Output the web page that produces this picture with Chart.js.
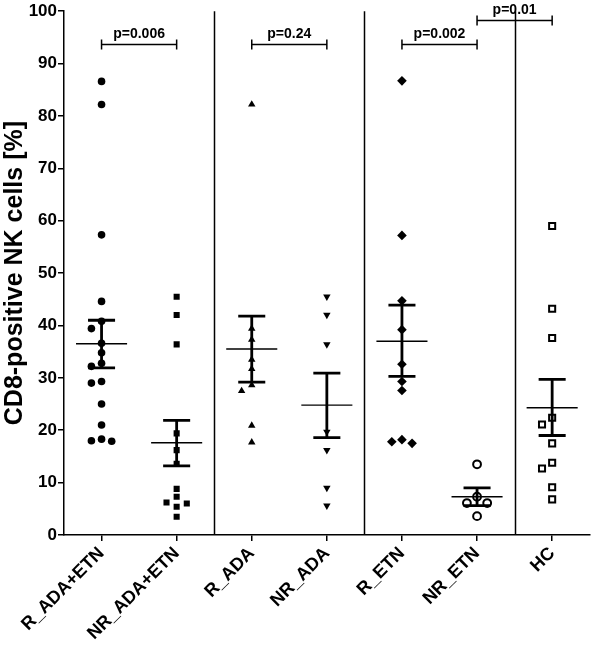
<!DOCTYPE html>
<html>
<head>
<meta charset="utf-8">
<script src="https://cdn.jsdelivr.net/npm/chart.js@4"></script>
<style>
  html, body { margin: 0; padding: 0; background: #fff; }
  #wrap { width: 596px; height: 645px; }
</style>
</head>
<body>
<div id="wrap"><canvas id="c" width="596" height="645"></canvas></div>
<script>
// ---- data ----
const categories = ['R_ADA+ETN', 'NR_ADA+ETN', 'R_ADA', 'NR_ADA', 'R_ETN', 'NR_ETN', 'HC'];
const rAdaEtn  = [86.6, 82.2, 57.3, 44.6, 40.8, 39.4, 36.6, 34.8, 32.8, 32.2, 29.3, 29.0, 25.0, 21.0, 18.3, 18.0, 17.9];
const nrAdaEtn = [45.5, 42.0, 36.4, 19.4, 16.2, 13.6, 8.8, 7.3, 6.0, 5.4, 6.2, 3.5];
const rAda     = [82.2, 39.4, 37.3, 33.5, 31.7, 28.6, 27.5, 20.9, 17.7];
const nrAda    = [45.5, 42.0, 36.4, 19.7, 16.2, 9.0, 5.6];
const rEtn     = [86.7, 57.2, 44.7, 39.2, 32.6, 29.3, 27.6, 18.2, 17.5, 17.8];
const nrEtn    = [13.5, 7.3, 6.1, 6.1, 3.6];
const hc       = [59.0, 43.2, 37.6, 22.4, 21.1, 17.5, 13.8, 12.7, 9.1, 6.8];
const means    = [36.5, 17.6, 35.5, 24.8, 37.0, 7.3, 24.3];
const semUpper = [41.0, 21.9, 41.8, 30.9, 43.9, 9.0, 29.7];
const semLower = [31.9, 13.2, 29.2, 18.6, 30.3, 5.6, 19.0];
const yTicks   = [0, 10, 20, 30, 40, 50, 60, 70, 80, 90, 100];
const pPairs   = [[0, 1], [2, 3], [4, 5], [5, 6]];
const pLabels  = ['p=0.006', 'p=0.24', 'p=0.002', 'p=0.01'];
const groupBlocks = [[0, 1], [2, 3], [4, 5], [6]];

// ---- styling ----
const FONT = '"Liberation Sans", Arial, sans-serif';
const series = [rAdaEtn, nrAdaEtn, rAda, nrAda, rEtn, nrEtn, hc];
const styles = [
  { pointStyle: 'circle',   radius: 3.8, bg: '#000', bw: 0 },
  { pointStyle: 'rect',     radius: 4.3, bg: '#000', bw: 0 },
  { pointStyle: 'triangle', radius: 4.3, bg: '#000', bw: 0, rot: 0 },
  { pointStyle: 'triangle', radius: 4.3, bg: '#000', bw: 0, rot: 180 },
  { pointStyle: 'rectRot',  radius: 4.8, bg: '#000', bw: 0 },
  { pointStyle: 'circle',   radius: 3.9, bg: '#fff', bw: 2 },
  { pointStyle: 'rect',     radius: 4.3, bg: '#fff', bw: 2 }
];
const bracketLevels = [93.7, 93.7, 93.7, 98.4];

// simple beeswarm: spread points that would overlap vertically
function swarm(vals, gi) {
  const step = 0.135, minDy = 1.5;
  const placed = [];
  const order = vals.map((v, i) => i).sort((a, b) => vals[b] - vals[a]);
  const out = new Array(vals.length);
  const slots = [0, -1, 1, -2, 2];
  for (const i of order) {
    const v = vals[i];
    let off = 0;
    for (const s of slots) {
      const ok = placed.every(p => Math.abs(p.y - v) >= minDy || Math.abs(p.s - s) >= 1);
      if (ok) { off = s; break; }
    }
    placed.push({ y: v, s: off });
    out[i] = { x: gi + off * step, y: v };
  }
  return out;
}

const datasets = series.map((vals, gi) => ({
  type: 'scatter',
  label: categories[gi],
  data: swarm(vals, gi),
  pointStyle: styles[gi].pointStyle,
  pointRadius: styles[gi].radius,
  pointHoverRadius: styles[gi].radius,
  pointRotation: styles[gi].rot || 0,
  backgroundColor: styles[gi].bg,
  borderColor: '#000',
  borderWidth: styles[gi].bw
}));

const overlay = {
  id: 'overlay',
  afterDatasetsDraw(chart) {
    const ctx = chart.ctx;
    const xs = chart.scales.x, ys = chart.scales.y;
    const unit = xs.getPixelForValue(1) - xs.getPixelForValue(0);
    ctx.save();
    ctx.strokeStyle = '#000';
    ctx.lineCap = 'butt';
    // group separators
    ctx.lineWidth = 1.5;
    for (let b = 0; b < groupBlocks.length - 1; b++) {
      const last = groupBlocks[b][groupBlocks[b].length - 1];
      const next = groupBlocks[b + 1][0];
      const px = Math.round(xs.getPixelForValue((last + next) / 2)) + 0.5;
      ctx.beginPath();
      ctx.moveTo(px, ys.getPixelForValue(100));
      ctx.lineTo(px, ys.getPixelForValue(0));
      ctx.stroke();
    }
    // mean + SEM
    for (let i = 0; i < categories.length; i++) {
      const cx = xs.getPixelForValue(i);
      const ym = ys.getPixelForValue(means[i]);
      const yu = ys.getPixelForValue(semUpper[i]);
      const yl = ys.getPixelForValue(semLower[i]);
      ctx.lineWidth = 1.4;
      ctx.beginPath();
      ctx.moveTo(cx - unit * 0.34, ym); ctx.lineTo(cx + unit * 0.34, ym);
      ctx.stroke();
      ctx.lineWidth = 2.8;
      ctx.beginPath();
      ctx.moveTo(cx, yu); ctx.lineTo(cx, yl);
      ctx.moveTo(cx - unit * 0.18, yu); ctx.lineTo(cx + unit * 0.18, yu);
      ctx.moveTo(cx - unit * 0.18, yl); ctx.lineTo(cx + unit * 0.18, yl);
      ctx.stroke();
    }
    // p-value brackets
    ctx.lineWidth = 1.5;
    ctx.fillStyle = '#000';
    ctx.font = 'bold 14px ' + FONT;
    ctx.textAlign = 'center';
    ctx.textBaseline = 'bottom';
    pPairs.forEach((pr, k) => {
      const x1 = xs.getPixelForValue(pr[0]);
      const x2 = xs.getPixelForValue(pr[1]);
      const yy = Math.round(ys.getPixelForValue(bracketLevels[k])) + 0.5;
      ctx.beginPath();
      ctx.moveTo(x1, yy); ctx.lineTo(x2, yy);
      ctx.moveTo(x1, yy - 5); ctx.lineTo(x1, yy + 5);
      ctx.moveTo(x2, yy - 5); ctx.lineTo(x2, yy + 5);
      ctx.stroke();
      ctx.fillText(pLabels[k], (x1 + x2) / 2, yy - 3);
    });
    ctx.restore();
  }
};

new Chart(document.getElementById('c'), {
  type: 'scatter',
  data: { datasets },
  plugins: [overlay],
  options: {
    responsive: false,
    animation: false,
    devicePixelRatio: 1,
    layout: { padding: { left: 0, right: 2, top: 10, bottom: 0 } },
    plugins: { legend: { display: false }, tooltip: { enabled: false } },
    scales: {
      x: {
        type: 'linear',
        min: -0.5,
        max: categories.length - 0.5,
        afterBuildTicks(scale) { scale.ticks = categories.map((c, i) => ({ value: i })); },
        afterFit(scale) { scale.height = 110; },
        ticks: {
          callback: (v) => categories[v],
          color: '#000',
          font: { family: FONT, size: 18, weight: 'bold' },
          minRotation: 45,
          maxRotation: 45,
          padding: 2,
          autoSkip: false
        },
        grid: { display: true, drawOnChartArea: false, drawTicks: true, tickLength: 6, color: '#000', lineWidth: 1.5 },
        border: { display: true, color: '#000', width: 1.5 }
      },
      y: {
        min: 0,
        max: 100,
        afterBuildTicks(scale) { scale.ticks = yTicks.map(v => ({ value: v })); },
        afterFit(scale) { scale.width = 64; },
        ticks: {
          color: '#000',
          font: { family: FONT, size: 17, weight: 'bold' },
          padding: 1
        },
        title: {
          display: true,
          text: 'CD8-positive NK cells [%]',
          color: '#000',
          font: { family: FONT, size: 25, weight: 'bold' },
          padding: { top: 0, bottom: 0 }
        },
        grid: { display: true, drawOnChartArea: false, drawTicks: true, tickLength: 6, color: '#000', lineWidth: 1.5 },
        border: { display: true, color: '#000', width: 1.5 }
      }
    }
  }
});
</script>
</body>
</html>
